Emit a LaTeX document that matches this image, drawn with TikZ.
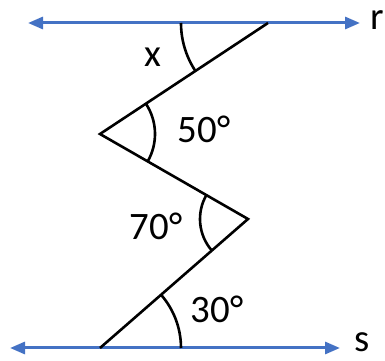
\documentclass[tikz,border=0pt]{standalone}
\usepackage{fontspec}
\setmainfont{Carlito}
\usetikzlibrary{arrows.meta,calc}
\definecolor{lineblue}{RGB}{68,114,196}

\begin{document}
\begin{tikzpicture}[x=1bp, y=1bp,
  font=\fontsize{39}{40}\selectfont,
  parallel/.style={draw=lineblue, line width=3bp, {Triangle[length=15bp,width=12bp]}-{Triangle[length=15bp,width=12bp]}},
  zig/.style={draw=black, line width=2.6bp, line join=miter},
  angarc/.style={draw=black, line width=2.6bp},
  lbl/.style={inner sep=0pt, anchor=center}]
\useasboundingbox (0,0) rectangle (385,361);
% parallel lines r and s
\coordinate (rl) at (28,338);
\coordinate (rr) at (360,338);
\coordinate (sl) at (10,13);
\coordinate (sr) at (340,13);
\draw[parallel] (rl) -- (rr);
\draw[parallel] (sl) -- (sr);
\node[lbl] (rlab) at (377,341) {r};
\node[lbl] (slab) at (362,19) {s};
% zigzag
\coordinate (A) at (268,338);
\coordinate (B) at (100,227);
\coordinate (C) at (248,142);
\coordinate (D) at (100,13);
\draw[zig] (A) -- (B) -- (C) -- (D);
% angle arcs
\draw[angarc] ($(A)+(180:87)$) arc[start angle=180, end angle=213.5, radius=87];
\draw[angarc] ($(B)+(-29.9:55)$) arc[start angle=-29.9, end angle=33.5, radius=55];
\draw[angarc] ($(C)+(150.1:48)$) arc[start angle=150.1, end angle=221.3, radius=48];
\draw[angarc] ($(D)+(0:81)$) arc[start angle=0, end angle=41.3, radius=81];
% angle labels
\node[lbl] (ax) at (153,304) {x};
\node[lbl] (a50) at (204,232) {50°};
\node[lbl] (a70) at (156,135) {70°};
\node[lbl] (a30) at (217,52) {30°};
\end{tikzpicture}
\end{document}
